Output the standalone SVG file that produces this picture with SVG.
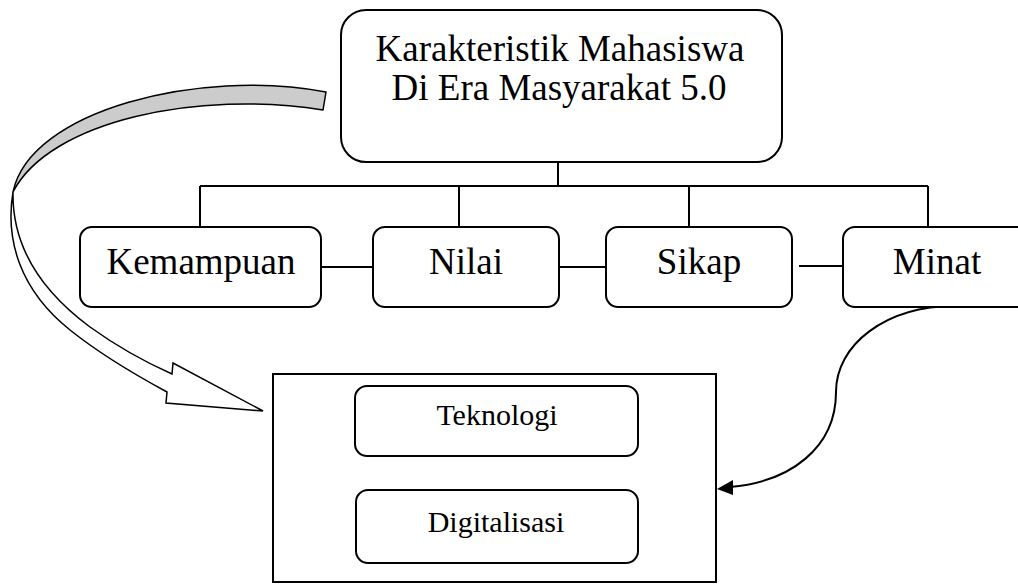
<svg xmlns="http://www.w3.org/2000/svg" width="1018" height="584" viewBox="0 0 1018 584">
<defs>
<style>
.box{fill:#fff;stroke:#000;stroke-width:2}
.ln{fill:none;stroke:#000;stroke-width:2}
.t{font-family:"Liberation Serif","Times New Roman",serif;fill:#000;text-anchor:middle}
.big{font-size:37px}
.sm{font-size:30px}
</style>
<marker id="ah" viewBox="0 0 10 10" refX="9" refY="5" markerWidth="8" markerHeight="8" markerUnits="userSpaceOnUse" orient="auto">
<path d="M0,0 L10,5 L0,10 z" fill="#000"/>
</marker>
</defs>
<rect width="1018" height="584" fill="#fff"/>
<g id="connectors">
<path class="ln" d="M558 162 V186 M200 186 H928 M200 186 V227 M459 186 V227 M689 186 V227 M928 186 V227"/>
<path class="ln" d="M321 267 H373 M559 267 H606 M799 266 H843"/>
<path d="M326 92 C200 68, 30 110, 13 192 C 50 120, 200 90, 323 110 Z" fill="#cccccc" stroke="#000" stroke-width="1.5" stroke-linejoin="round"/>
<path d="M13 192 C5 240, 20 290, 70 330 C100 354, 130 372, 167 392 L166 403 L263 411 L173 363 L172 374 C145 362, 115 345, 90 327 C40 290, 12 245, 13 192 Z" fill="#fff" stroke="#000" stroke-width="1.5" stroke-linejoin="miter"/>
<path d="M955 306 C885 306, 836 345, 836 392 C836 448, 790 482, 730 487" fill="none" stroke="#000" stroke-width="2"/>
<path d="M717 489 L733 480 L733 495 Z" fill="#000"/>
</g>
<g id="node-main">
<rect class="box" x="341" y="10" width="441" height="152" rx="25"/>
<text class="t big" x="560" y="61">Karakteristik Mahasiswa</text>
<text class="t big" x="559" y="100">Di Era Masyarakat 5.0</text>
</g>
<g id="node-kemampuan">
<rect class="box" x="80" y="227" width="241" height="80" rx="12"/>
<text class="t big" x="201" y="274">Kemampuan</text>
</g>
<g id="node-nilai">
<rect class="box" x="373" y="227" width="186" height="80" rx="12"/>
<text class="t big" x="466" y="274">Nilai</text>
</g>
<g id="node-sikap">
<rect class="box" x="606" y="227" width="186" height="80" rx="12"/>
<text class="t big" x="699" y="274">Sikap</text>
</g>
<g id="node-minat">
<rect class="box" x="843" y="227" width="188" height="80" rx="12"/>
<text class="t big" x="937" y="274">Minat</text>
</g>
<g id="node-container">
<rect x="273" y="374" width="443" height="208" fill="none" stroke="#000" stroke-width="2"/>
</g>
<g id="node-teknologi">
<rect class="box" x="355" y="386" width="283" height="70" rx="12" stroke-width="1.5"/>
<text class="t sm" x="497" y="425">Teknologi</text>
</g>
<g id="node-digitalisasi">
<rect class="box" x="356" y="490" width="282" height="73" rx="12" stroke-width="1.5"/>
<text class="t sm" x="496" y="532">Digitalisasi</text>
</g>
</svg>
